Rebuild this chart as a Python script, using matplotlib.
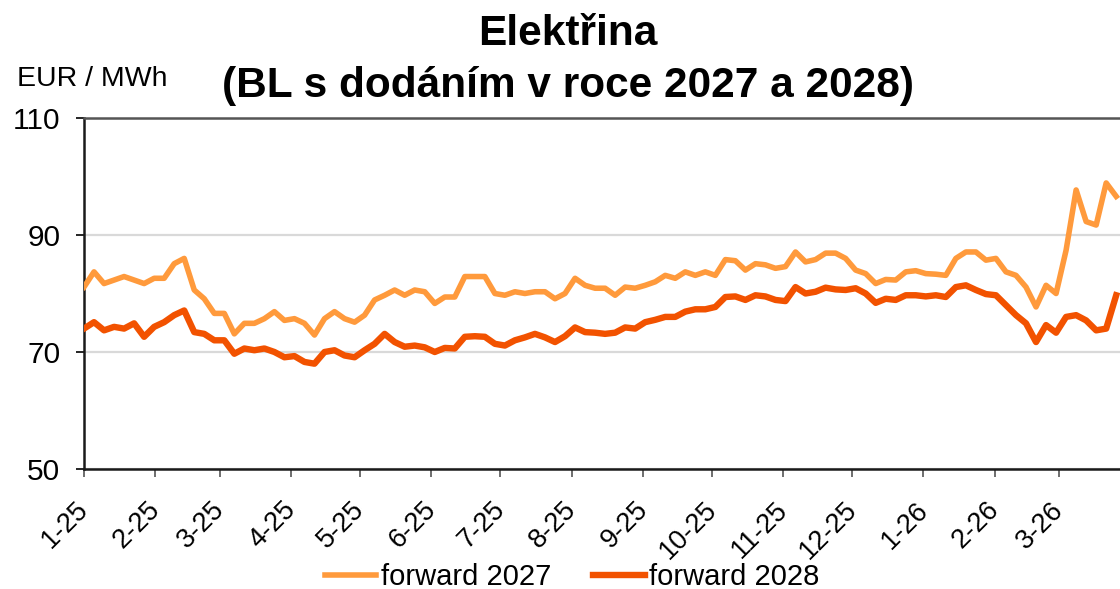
import matplotlib
matplotlib.use("Agg")
import matplotlib.pyplot as plt
import matplotlib.dates as mdates
import matplotlib.transforms as mtransforms
import pandas as pd
import numpy as np

plt.rcParams['font.family'] = ['Liberation Sans', 'DejaVu Sans']

# ---- data ----
v27 = [81.1, 83.7, 81.7, 82.3, 82.9, 82.3, 81.7, 82.6, 82.6, 85.1,
       86.0, 80.6, 79.1, 76.6, 76.6, 73.1, 74.9, 74.9, 75.7, 76.9,
       75.4, 75.7, 74.9, 72.9, 75.7, 76.9, 75.7, 75.1, 76.3, 78.9,
       79.7, 80.6, 79.7, 80.6, 80.3, 78.3, 79.4, 79.4, 82.9, 82.9,
       82.9, 80.0, 79.7, 80.3, 80.0, 80.3, 80.3, 79.1, 80.0, 82.6,
       81.4, 80.9, 80.9, 79.7, 81.1, 80.9, 81.4, 82.0, 83.1, 82.6,
       83.7, 83.1, 83.7, 83.1, 85.8, 85.6, 84.0, 85.1, 84.9, 84.3,
       84.6, 87.1, 85.4, 85.8, 86.9, 86.9, 86.0, 84.0, 83.4, 81.7,
       82.4, 82.3, 83.7, 83.9, 83.4, 83.3, 83.1, 86.0, 87.1, 87.1,
       85.7, 86.0, 83.7, 83.1, 81.1, 77.7, 81.4, 80.0, 87.4, 97.7,
       92.3, 91.7, 98.9, 96.6]
v28 = [74.0, 75.1, 73.7, 74.3, 74.0, 74.9, 72.6, 74.3, 75.1, 76.3,
       77.1, 73.4, 73.1, 72.0, 72.0, 69.7, 70.6, 70.3, 70.6, 70.0,
       69.1, 69.3, 68.3, 68.0, 70.0, 70.3, 69.4, 69.1, 70.3, 71.4,
       73.1, 71.7, 70.9, 71.1, 70.8, 70.0, 70.7, 70.6, 72.6, 72.7,
       72.6, 71.4, 71.1, 72.0, 72.5, 73.1, 72.5, 71.7, 72.7, 74.2,
       73.4, 73.3, 73.1, 73.3, 74.2, 74.0, 75.1, 75.5, 76.0, 76.0,
       76.9, 77.3, 77.3, 77.7, 79.4, 79.5, 78.9, 79.7, 79.5, 78.9,
       78.7, 81.1, 80.0, 80.3, 81.0, 80.7, 80.6, 80.9, 80.0, 78.4,
       79.1, 78.9, 79.7, 79.7, 79.5, 79.7, 79.4, 81.1, 81.4, 80.6,
       79.9, 79.7, 78.0, 76.3, 74.9, 71.7, 74.6, 73.3, 76.0, 76.3,
       75.4, 73.7, 74.0, 79.7]
series_names = ['forward 2027', 'forward 2028']
month_ticks = pd.date_range('2025-01-01', '2026-03-01', freq='MS')
tick_labels = [f"{d.month}-{d.year % 100:02d}" for d in month_ticks]
y_ticks = [50, 70, 90, 110]

dates = pd.date_range('2025-01-01', '2026-03-25 19:00', periods=len(v27))

# ---- figure ----
fig = plt.figure(figsize=(11.2, 5.89), dpi=100)
ax = fig.add_axes([84/1120, 1-469/589, 1-84/1120 + 0.002, (469-118)/589])

c27 = '#FF9A3C'
c28 = '#F25200'
ax.plot(dates, v27, color=c27, lw=4.0, label=series_names[0], solid_joinstyle='round', zorder=3)
ax.plot(dates, v28, color=c28, lw=4.6, label=series_names[1], solid_joinstyle='round', zorder=4)

ax.set_ylim(50, 110)
ax.set_yticks(y_ticks)
ax.set_xlim(pd.Timestamp('2025-01-01'), pd.Timestamp('2026-03-28 10:00'))
ax.set_xticks(month_ticks)

ax.tick_params(axis='y', labelsize=21.5, length=6, width=1.2, pad=11, direction='out')
ax.tick_params(axis='x', length=6, width=1.2, pad=14, direction='out', color='#555555')

ax.set_xticklabels(tick_labels, rotation=45, ha='right', va='top', fontsize=19.5)
offset = mtransforms.ScaledTranslation(10/100, 0, fig.dpi_scale_trans)
for lab in ax.get_xticklabels():
    lab.set_transform(lab.get_transform() + offset)

ax.grid(axis='y', color='#D9D9D9', lw=1.6, zorder=0)
ax.set_axisbelow(True)
for s in ['left', 'bottom']:
    ax.spines[s].set_color('#1a1a1a')
    ax.spines[s].set_linewidth(1.8)
ax.spines['top'].set_color('#555555')
ax.spines['top'].set_linewidth(1.8)
ax.spines['right'].set_visible(False)

fig.text(0.507, 1-45/589, 'Elektřina', ha='center', va='baseline', fontsize=30.5, fontweight='bold')
fig.text(0.507, 1-97/589, '(BL s dodáním v roce 2027 a 2028)', ha='center', va='baseline', fontsize=30.5, fontweight='bold')
fig.text(17/1120, 1-86/589, 'EUR / MWh', ha='left', va='baseline', fontsize=20.5)

fig.legend(loc='center', bbox_to_anchor=(0.511, 1-577/589), ncol=2, frameon=False,
           fontsize=21, handlelength=1.75, handletextpad=0.17, columnspacing=1.45,
           borderaxespad=0, borderpad=0)

fig.savefig('out.png', dpi=100)
